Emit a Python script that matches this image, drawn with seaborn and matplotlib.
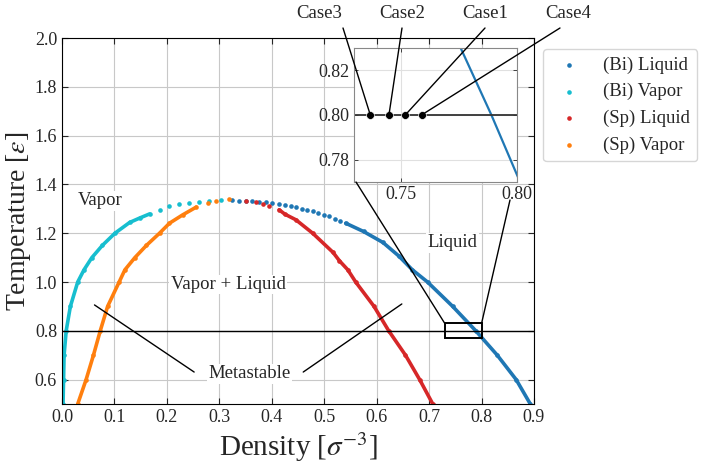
import seaborn as sns
import matplotlib.pyplot as plt
from matplotlib.patches import Rectangle, ConnectionPatch

# Binodal (Bi) and spinodal (Sp) readings: density, temperature
bi_liq_rho = [0.325, 0.338, 0.35, 0.362, 0.376, 0.389, 0.40, 0.414, 0.425, 0.436,
              0.446, 0.457, 0.468, 0.478, 0.489, 0.50, 0.51, 0.52, 0.53, 0.541,
              0.575, 0.612, 0.642, 0.668, 0.697, 0.745, 0.789, 0.83, 0.866, 0.893]
bi_liq_T = [1.337, 1.333, 1.331, 1.330, 1.328, 1.326, 1.324, 1.321, 1.317, 1.312,
            1.307, 1.301, 1.295, 1.289, 1.282, 1.276, 1.269, 1.260, 1.251, 1.241,
            1.207, 1.162, 1.107, 1.05, 1.0, 0.9, 0.8, 0.7, 0.6, 0.5]

bi_vap_rho = [0.002, 0.003, 0.004, 0.008, 0.016, 0.03, 0.042, 0.057, 0.077, 0.101,
              0.129, 0.148, 0.167, 0.186, 0.205, 0.224, 0.243, 0.262, 0.281, 0.303]
bi_vap_T = [0.5, 0.6, 0.7, 0.8, 0.9, 1.0, 1.05, 1.1, 1.15, 1.2,
            1.244, 1.262, 1.279, 1.296, 1.31, 1.319, 1.323, 1.327, 1.333, 1.337]

sp_liq_rho = [0.351, 0.37, 0.383, 0.395, 0.414, 0.425, 0.446, 0.478, 0.517, 0.529,
              0.545, 0.56, 0.595, 0.623, 0.655, 0.682, 0.707]
sp_liq_T = [1.33, 1.326, 1.32, 1.31, 1.296, 1.278, 1.255, 1.2, 1.121, 1.087,
            1.05, 1.0, 0.9, 0.8, 0.7, 0.6, 0.5]

sp_vap_rho = [0.03, 0.046, 0.06, 0.073, 0.087, 0.109, 0.12, 0.139, 0.161, 0.186,
              0.205, 0.23, 0.256, 0.278, 0.294, 0.319]
sp_vap_T = [0.5, 0.6, 0.7, 0.8, 0.9, 1.0, 1.05, 1.1, 1.15, 1.2,
            1.241, 1.275, 1.307, 1.323, 1.333, 1.34]

series_labels = ['(Bi) Liquid', '(Bi) Vapor', '(Sp) Liquid', '(Sp) Vapor']
series_colors = ['#1f77b4', '#17becf', '#d62728', '#ff7f0e']
# above this temperature the points show as separate dots
dot_above = [1.241, 1.279, 1.296, 1.307]

case_names = ['Case3', 'Case2', 'Case1', 'Case4']
case_rho = [0.737, 0.745, 0.752, 0.759]
case_T = [0.8, 0.8, 0.8, 0.8]

sns.set_style('ticks', {'xtick.direction': 'in', 'ytick.direction': 'in',
                        'axes.grid': True, 'grid.color': '#c8c8c8',
                        'axes.edgecolor': 'black'})
plt.rcParams['font.family'] = ['Liberation Serif', 'DejaVu Serif']
plt.rcParams['mathtext.fontset'] = 'stix'

fig = plt.figure(figsize=(7.1, 4.67), dpi=100)
ax = fig.add_axes([0.0873, 0.1349, 0.6648, 0.7837])

series = [(bi_liq_rho, bi_liq_T), (bi_vap_rho, bi_vap_T),
          (sp_liq_rho, sp_liq_T), (sp_vap_rho, sp_vap_T)]

for (rho, T), lab, col, cut in zip(series, series_labels, series_colors, dot_above):
    lo_rho = [r for r, t in zip(rho, T) if t <= cut]
    lo_T = [t for t in T if t <= cut]
    sns.lineplot(x=lo_rho, y=lo_T, sort=False, estimator=None, color=col,
                 lw=2.6, ax=ax)
    sns.scatterplot(x=rho, y=T, color=col, s=11, linewidth=0, label=lab, ax=ax)

ax.axhline(0.8, color='black', lw=1)
ax.set_xlim(0, 0.9)
ax.set_ylim(0.5, 2.0)
ax.set_xticks([i / 10 for i in range(10)])
ax.set_yticks([0.6 + 0.2 * i for i in range(8)])
ax.xaxis.set_major_formatter('{x:.1f}')
ax.yaxis.set_major_formatter('{x:.1f}')
ax.tick_params(labelsize=13, top=True, right=True, length=4, width=0.8)
ax.set_xlabel(r'Density [$\sigma^{-3}$]', fontsize=21, labelpad=3)
ax.set_ylabel(r'Temperature [$\varepsilon$]', fontsize=20, labelpad=1)

ax.legend(loc='upper left', bbox_to_anchor=(543 / 710, 1 - 49 / 467),
          bbox_transform=fig.transFigure, borderaxespad=0, fontsize=13.5,
          frameon=True, markerscale=1.0)

box = dict(facecolor='white', edgecolor='none', pad=1)
ax.text(0.03, 1.333, 'Vapor', fontsize=13.5, va='center', ha='left', bbox=box)
ax.text(0.317, 0.99, 'Vapor + Liquid', fontsize=13.5, va='center', ha='center', bbox=box)
ax.text(0.745, 1.16, 'Liquid', fontsize=13.5, va='center', ha='center', bbox=box)
ax.text(0.357, 0.623, 'Metastable', fontsize=13.5, va='center', ha='center', bbox=box)
ax.plot([0.252, 0.062], [0.631, 0.906], color='black', lw=1)
ax.plot([0.46, 0.648], [0.631, 0.91], color='black', lw=1)

ax.add_patch(Rectangle((0.73, 0.77), 0.07, 0.06, fill=False, ec='black', lw=1.4, zorder=5))

# zoomed view
axin = fig.add_axes([0.4986, 0.6103, 0.2296, 0.2869])
sns.lineplot(x=bi_liq_rho, y=bi_liq_T, sort=False, estimator=None,
             color=series_colors[0], lw=1.6, ax=axin)
axin.axhline(0.8, color='#333333', lw=1.3)
sns.scatterplot(x=case_rho, y=case_T, color='black', s=32, zorder=5, ax=axin)
axin.set_xlim(0.73, 0.80)
axin.set_ylim(0.77, 0.83)
axin.set_xticks([0.75, 0.80])
axin.set_yticks([0.78, 0.80, 0.82])
axin.xaxis.set_major_formatter('{x:.2f}')
axin.yaxis.set_major_formatter('{x:.2f}')
axin.tick_params(labelsize=13, top=True, right=True, length=3, width=0.6, pad=3)
axin.grid(color='#e0e0e0', lw=0.8)
for sp in axin.spines.values():
    sp.set_color('#888888')

fig.add_artist(ConnectionPatch((0.73, 0.83), (356 / 710, 1 - 182 / 467),
                               coordsA='data', coordsB='figure fraction',
                               axesA=ax, color='black', lw=1))
fig.add_artist(ConnectionPatch((0.80, 0.83), (510 / 710, 1 - 200 / 467),
                               coordsA='data', coordsB='figure fraction',
                               axesA=ax, color='black', lw=1))

label_x = [319, 402, 485, 568]
line_x = [343, 402, 485, 560]
for name, lx, sx, r, t in zip(case_names, label_x, line_x, case_rho, case_T):
    fig.text(lx / 710, 1 - 14 / 467, name, fontsize=13.5, ha='center', va='center')
    fig.add_artist(ConnectionPatch((sx / 710, 1 - 28 / 467), (r, t),
                                   coordsA='figure fraction', coordsB='data',
                                   axesB=axin, color='black', lw=1))

fig.savefig('out.png', dpi=100)
